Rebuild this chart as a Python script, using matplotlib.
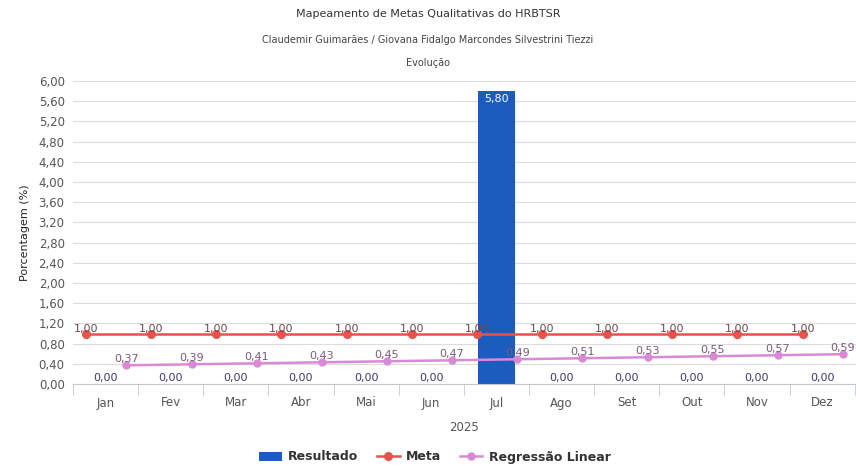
import matplotlib
matplotlib.use("Agg")
import matplotlib.pyplot as plt
import numpy as np
from matplotlib.lines import Line2D
from matplotlib.patches import Patch

months = ["Jan", "Fev", "Mar", "Abr", "Mai", "Jun", "Jul", "Ago", "Set", "Out", "Nov", "Dez"]
resultado = [0.00, 0.00, 0.00, 0.00, 0.00, 0.00, 5.80, 0.00, 0.00, 0.00, 0.00, 0.00]
meta = [1.00] * 12
regressao = [0.37, 0.39, 0.41, 0.43, 0.45, 0.47, 0.49, 0.51, 0.53, 0.55, 0.57, 0.59]
yticks = [0.0, 0.4, 0.8, 1.2, 1.6, 2.0, 2.4, 2.8, 3.2, 3.6, 4.0, 4.4, 4.8, 5.2, 5.6, 6.0]

def fmt(v):
    return f"{v:.2f}".replace(".", ",")

W, H = 856, 466
fig = plt.figure(figsize=(W / 100, H / 100), dpi=100)
left, right, top, bottom = 73, 856, 81, 384
ax = fig.add_axes([left / W, 1 - bottom / H, (right - left) / W, (bottom - top) / H])

x = np.arange(len(months))
bar_color = "#1c5cbf"
meta_color = "#e5534b"
reg_color = "#d88ad6"
txt_color = "#555555"

ax.bar(x, resultado, width=0.57, color=bar_color, zorder=2)
for xi, v in zip(x, resultado):
    if v > 0.5:
        ax.text(xi, v - 0.06, fmt(v), ha="center", va="top", color="white", fontsize=8, zorder=5)
    else:
        ax.text(xi, v + 0.12, fmt(v), ha="center", va="center", color="#3a3a6a", fontsize=8, zorder=5)

off_meta = -0.3
off_reg = 0.32
ax.plot(x + off_meta, meta, color=meta_color, lw=1.8, marker="o", ms=5.5, zorder=3)
for xi, v in zip(x, meta):
    ax.text(xi + off_meta, v + 0.09, fmt(v), ha="center", va="center", color="#6a4a4a", fontsize=8, zorder=5)

ax.plot(x + off_reg, regressao, color=reg_color, lw=1.8, marker="o", ms=5, zorder=3)
for xi, v in zip(x, regressao):
    ax.text(xi + off_reg, v + 0.12, fmt(v), ha="center", va="center", color="#7a5a7a", fontsize=8, zorder=5)

ax.set_xlim(-0.5, len(months) - 0.5 + 0.02)
ax.set_ylim(0, 6.0)
ax.set_yticks(yticks)
ax.set_yticklabels([fmt(t) for t in yticks], fontsize=8.5, color=txt_color)
ax.set_xticks(x)
ax.set_xticklabels(months, fontsize=8.5, color=txt_color)
ax.set_xticks(np.arange(len(months) + 1) - 0.5, minor=True)
ax.tick_params(axis="x", which="major", length=0, pad=9)
ax.tick_params(axis="x", which="minor", length=8, color="#c0c8d0")
ax.tick_params(axis="y", length=0, pad=6)
ax.grid(axis="y", color="#dcdcdc", lw=0.8, zorder=0)
ax.set_axisbelow(True)
for s in ["top", "right", "left"]:
    ax.spines[s].set_visible(False)
ax.spines["bottom"].set_color("#c0c8d0")

ax.set_xlabel("2025", fontsize=8.5, color=txt_color, labelpad=8)
ax.set_ylabel("Porcentagem (%)", fontsize=8, color="#222222", labelpad=6)

fig.text(428 / W, 1 - 14 / H, "Mapeamento de Metas Qualitativas do HRBTSR", ha="center", va="center", fontsize=8, color="#333333")
fig.text(428 / W, 1 - 40 / H, "Claudemir Guimarães / Giovana Fidalgo Marcondes Silvestrini Tiezzi", ha="center", va="center", fontsize=7, color="#444444")
fig.text(428 / W, 1 - 63 / H, "Evolução", ha="center", va="center", fontsize=7, color="#444444")

handles = [
    Patch(facecolor=bar_color, label="Resultado"),
    Line2D([0], [0], color=meta_color, lw=1.8, marker="o", ms=5.5, label="Meta"),
    Line2D([0], [0], color=reg_color, lw=1.8, marker="o", ms=5, label="Regressão Linear"),
]
leg = fig.legend(handles=handles, loc="center", bbox_to_anchor=(435 / W, 1 - 457 / H), ncol=3,
                 frameon=False, fontsize=9, handlelength=1.8, columnspacing=1.5, handletextpad=0.5)
for t in leg.get_texts():
    t.set_fontweight("bold")
    t.set_color("#333333")

fig.savefig("out.png", dpi=100)
